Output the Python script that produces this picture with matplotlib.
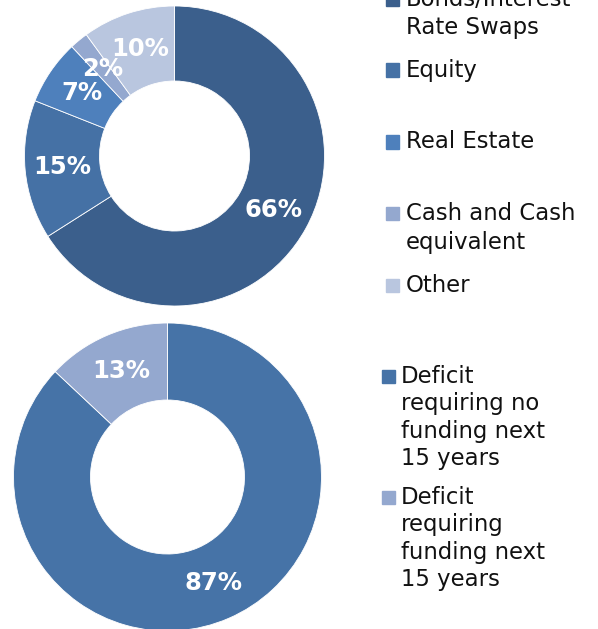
import matplotlib
matplotlib.use("Agg")
import matplotlib.pyplot as plt
from matplotlib.patches import Rectangle

# top donut - asset allocation
asset_labels = ["Bonds/Interest\nRate Swaps", "Equity", "Real Estate",
                "Cash and Cash\nequivalent", "Other"]
asset_values = [66, 15, 7, 2, 10]
asset_colors = ["#3b5f8c", "#4571a5", "#4e80bc", "#94a8cf", "#b9c6df"]

# bottom donut - deficit funding
deficit_labels = ["Deficit\nrequiring no\nfunding next\n15 years",
                  "Deficit\nrequiring\nfunding next\n15 years"]
deficit_values = [87, 13]
deficit_colors = ["#4673a7", "#94a8cf"]

W, H = 598, 629
fig = plt.figure(figsize=(W / 100, H / 100), dpi=100)
fig.patch.set_facecolor("white")


def px_axes(cx, cy, r):
    # cx, cy in pixels from top-left
    return fig.add_axes([(cx - r) / W, (H - cy - r) / H, 2 * r / W, 2 * r / H])


def donut(ax, values, colors):
    ax.pie(values, colors=colors, startangle=90, counterclock=False,
           radius=1.0, autopct=lambda p: "%d%%" % round(p), pctdistance=0.75,
           wedgeprops=dict(width=0.5, edgecolor="white", linewidth=0.6),
           textprops=dict(color="white", fontsize=17.5, fontweight="bold"))
    ax.set_xlim(-1, 1)
    ax.set_ylim(-1, 1)
    ax.set_axis_off()


ax1 = px_axes(174.5, 156, 150)
donut(ax1, asset_values, asset_colors)

ax2 = px_axes(167.5, 477, 154)
donut(ax2, deficit_values, deficit_colors)


def legend(labels, colors, x_box, x_text, first_rows, step=27.5, box=13):
    for lab, col, y0 in zip(labels, colors, first_rows):
        fig.patches.append(Rectangle(((x_box) / W, (H - y0 - box / 2) / H),
                                     box / W, box / H, color=col,
                                     transform=fig.transFigure, figure=fig))
        for i, line in enumerate(lab.split("\n")):
            fig.text(x_text / W, (H - (y0 + i * step)) / H, line,
                     fontsize=16.4, color="#111111", va="center", ha="left")


legend(asset_labels, asset_colors, 386, 406, [-1, 70, 142, 213.5, 285.5], step=28.5)
legend(deficit_labels, deficit_colors, 382, 401, [376.5, 497.5], step=27.3)

fig.savefig("out.png", dpi=100, facecolor="white")
